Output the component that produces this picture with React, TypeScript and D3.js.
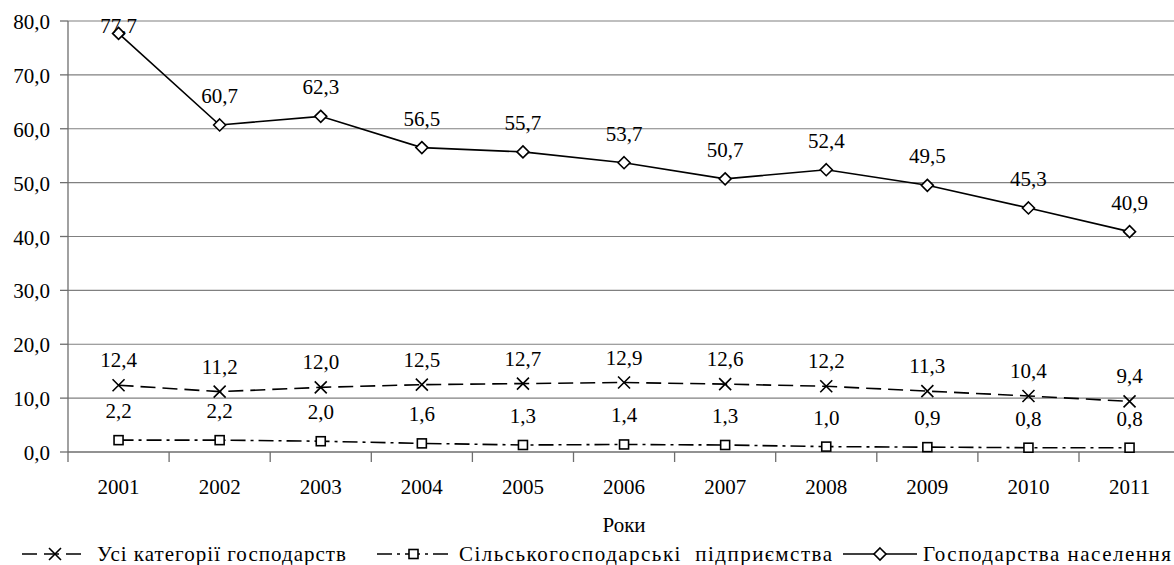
import React, { useEffect } from "react";
import * as d3 from "d3";

const years = ["2001", "2002", "2003", "2004", "2005", "2006", "2007", "2008", "2009", "2010", "2011"];
const allCategories = [12.4, 11.2, 12.0, 12.5, 12.7, 12.9, 12.6, 12.2, 11.3, 10.4, 9.4];
const agriEnterprises = [2.2, 2.2, 2.0, 1.6, 1.3, 1.4, 1.3, 1.0, 0.9, 0.8, 0.8];
const households = [77.7, 60.7, 62.3, 56.5, 55.7, 53.7, 50.7, 52.4, 49.5, 45.3, 40.9];
const yTicks = [0, 10, 20, 30, 40, 50, 60, 70, 80];

const seriesNames = [
  "Усі категорії господарств",
  "Сільськогосподарські  підприємства",
  "Господарства населення",
];
const xTitle = "Роки";

const W = 1174;
const H = 565;
const M = { left: 68, top: 21, bottom: 452 };
const BAND = 101.1;
const FS = 21;
const textStyle: React.CSSProperties = { fontFamily: '"Liberation Serif"', whiteSpace: "pre" };

type Marker = "cross" | "square" | "diamond";

const locale = d3.formatLocale({ decimal: ",", thousands: " ", grouping: [3], currency: ["", ""] });
const fmt = locale.format(".1f");

const x = d3.scaleBand().domain(years).range([M.left, M.left + BAND * years.length]);
const y = d3.scaleLinear().domain([0, 80]).range([M.bottom, M.top]);
const cx = (d: string) => (x(d) ?? 0) + x.bandwidth() / 2;
const plotRight = M.left + BAND * years.length;

const series: { values: number[]; dash?: string; marker: Marker; labelOffset: number }[] = [
  { values: allCategories, dash: "15,7", marker: "cross", labelOffset: 18 },
  { values: agriEnterprises, dash: "15,5,3,5", marker: "square", labelOffset: 22 },
  { values: households, marker: "diamond", labelOffset: 22 },
];

const line = d3
  .line<number>()
  .x((_, i) => cx(years[i]))
  .y((d) => y(d));

function MarkerShape({ kind, px, py }: { kind: Marker; px: number; py: number }) {
  if (kind === "cross") {
    const s = 6;
    return (
      <path
        d={`M${px - s},${py - s}L${px + s},${py + s}M${px - s},${py + s}L${px + s},${py - s}`}
        stroke="#000"
        strokeWidth={1.6}
        fill="none"
      />
    );
  }
  if (kind === "square") {
    const s = 4.5;
    return <rect x={px - s} y={py - s} width={s * 2} height={s * 2} fill="#fff" stroke="#000" strokeWidth={1.6} />;
  }
  const s = 6;
  return (
    <path d={`M${px},${py - s}L${px + s},${py}L${px},${py + s}L${px - s},${py}Z`} fill="#fff" stroke="#000" strokeWidth={1.6} />
  );
}

const legendY = 554;
const legendPos = [
  { x0: 22, x1: 88, textX: 97, textW: 249 },
  { x0: 377, x1: 450, textX: 459, textW: 373 },
  { x0: 843, x1: 917, textX: 923, textW: 248 },
];

export default function App() {
  useEffect(() => {
    document.body.style.margin = "0";
  }, []);

  return (
    <svg width={W} height={H} style={{ display: "block", background: "#fff" }}>
      {/* gridlines */}
      {yTicks
        .filter((t) => t > 0)
        .map((t) => (
          <line key={`g${t}`} x1={M.left} x2={plotRight} y1={y(t)} y2={y(t)} stroke="#808080" strokeWidth={1.2} />
        ))}

      {/* y axis */}
      <line x1={M.left} x2={M.left} y1={y(80)} y2={y(0)} stroke="#6e6e6e" strokeWidth={1.3} />
      {yTicks.map((t) => (
        <g key={`y${t}`}>
          <line x1={M.left - 8} x2={M.left} y1={y(t)} y2={y(t)} stroke="#6e6e6e" strokeWidth={1.3} />
          <text x={M.left - 18} y={y(t) + 8} textAnchor="end" fontSize={FS} style={textStyle}>
            {fmt(t)}
          </text>
        </g>
      ))}

      {/* x axis */}
      <line x1={M.left} x2={plotRight} y1={y(0)} y2={y(0)} stroke="#6e6e6e" strokeWidth={1.3} />
      {years.map((yr) => (
        <g key={`x${yr}`}>
          <line x1={x(yr)} x2={x(yr)} y1={y(0)} y2={y(0) + 10} stroke="#6e6e6e" strokeWidth={1.3} />
          <text x={cx(yr)} y={494} textAnchor="middle" fontSize={FS} style={textStyle}>
            {yr}
          </text>
        </g>
      ))}
      <text x={(M.left + plotRight) / 2} y={532} textAnchor="middle" fontSize={FS} style={textStyle}>
        {xTitle}
      </text>

      {/* series */}
      {series.map((s, si) => (
        <g key={`s${si}`}>
          <path d={line(s.values) ?? ""} fill="none" stroke="#000" strokeWidth={1.6} strokeDasharray={s.dash} />
          {s.values.map((v, i) => (
            <MarkerShape key={i} kind={s.marker} px={cx(years[i])} py={y(v)} />
          ))}
          {s.values.map((v, i) => (
            <text
              key={`l${i}`}
              x={cx(years[i])}
              y={Math.max(y(v) - s.labelOffset, y(80) + 12)}
              textAnchor="middle"
              fontSize={FS}
              style={textStyle}
            >
              {fmt(v)}
            </text>
          ))}
        </g>
      ))}

      {/* legend */}
      {legendPos.map((l, i) => (
        <g key={`lg${i}`}>
          <line x1={l.x0} x2={l.x1} y1={legendY} y2={legendY} stroke="#000" strokeWidth={1.6} strokeDasharray={series[i].dash} />
          <MarkerShape kind={series[i].marker} px={(l.x0 + l.x1) / 2} py={legendY} />
          <text
            x={l.textX}
            y={legendY + 7}
            fontSize={FS}
            textLength={l.textW}
            lengthAdjust="spacing"
            style={textStyle}
          >
            {seriesNames[i]}
          </text>
        </g>
      ))}
    </svg>
  );
}
